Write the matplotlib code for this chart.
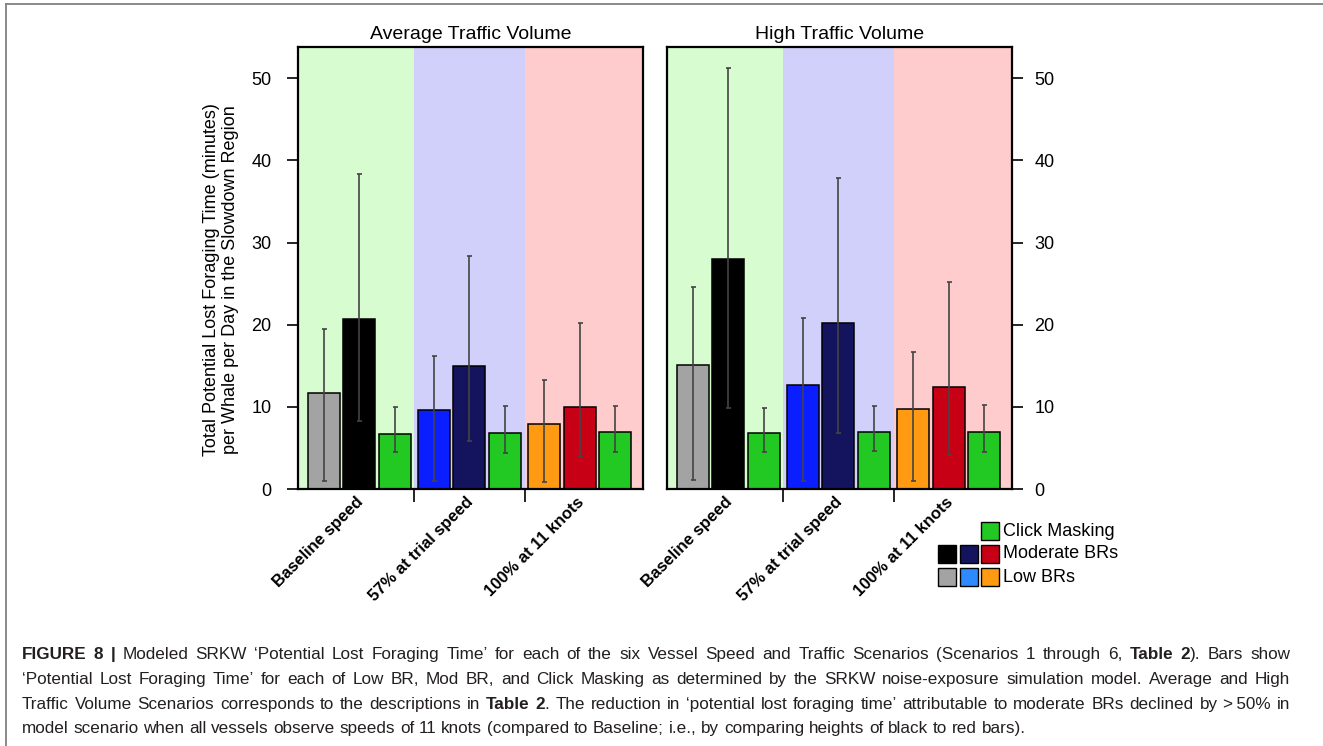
import numpy as np
import matplotlib
matplotlib.use("Agg")
import matplotlib.pyplot as plt
from matplotlib.lines import Line2D
from matplotlib.patches import Rectangle
from matplotlib.transforms import blended_transform_factory

plt.rcParams["font.family"] = ["Liberation Sans", "DejaVu Sans"]

# ---- data (minutes per whale per day) ----
scenarios = ["Baseline speed", "57% at trial speed", "100% at 11 knots"]
panel_titles = ["Average Traffic Volume", "High Traffic Volume"]

# average traffic volume
low_avg = [11.7, 9.6, 7.9]
low_avg_lo = [1.0, 1.0, 0.9]
low_avg_hi = [19.5, 16.2, 13.3]
mod_avg = [20.7, 15.0, 10.0]
mod_avg_lo = [8.3, 5.9, 3.9]
mod_avg_hi = [38.3, 28.3, 20.2]
click_avg = [6.7, 6.8, 6.9]
click_avg_lo = [4.5, 4.4, 4.5]
click_avg_hi = [10.0, 10.1, 10.1]

# high traffic volume
low_high = [15.1, 12.7, 9.7]
low_high_lo = [1.1, 1.0, 1.0]
low_high_hi = [24.6, 20.8, 16.7]
mod_high = [28.0, 20.2, 12.4]
mod_high_lo = [9.9, 6.8, 4.1]
mod_high_hi = [51.2, 37.8, 25.2]
click_high = [6.8, 6.9, 6.9]
click_high_lo = [4.5, 4.6, 4.5]
click_high_hi = [9.9, 10.1, 10.2]

y_ticks = [0, 10, 20, 30, 40, 50]

# ---- palette ----
LOW_COLORS = ["#a3a3a3", "#0a1eff", "#ff9a12"]
MOD_COLORS = ["#000000", "#14145e", "#c80016"]
CLICK = "#22c922"
LEGEND_LOW = ["#a3a3a3", "#2e8bff", "#ff9a12"]
BG = ["#d6fcd0", "#d0d0fa", "#fecccc"]
ERR = "#444444"
FRAME = "#808080"

W, H = 1323, 746
GROUP_STEP = 3.1
BAR_W = 0.9
XLIM = (-0.72, 2 * GROUP_STEP + 2 + 0.78)
YLIM = (0, 53.8)


def px_x(x):
    return x / W


def px_y(y):
    return 1 - y / H


def draw_panel(ax, series, title, side):
    groups = np.arange(len(scenarios)) * GROUP_STEP
    # scenario backgrounds
    mids = list(groups[:-1] + 2 + (GROUP_STEP - 2) / 2)
    edges = [XLIM[0]] + mids + [XLIM[1]]
    for i in range(len(scenarios)):
        ax.axvspan(edges[i], edges[i + 1], color=BG[i], lw=0, zorder=0)

    for k, (vals, lo, hi, colors) in enumerate(series):
        vals = np.asarray(vals)
        x = groups + k
        ax.bar(x, vals, width=BAR_W, color=colors, edgecolor="black",
               linewidth=1.1, zorder=2)
        ax.errorbar(x, vals, yerr=[vals - np.asarray(lo), np.asarray(hi) - vals],
                    fmt="none", ecolor=ERR, elinewidth=1.2, capsize=1.8,
                    capthick=1.2, zorder=3)

    ax.set_xlim(*XLIM)
    ax.set_ylim(*YLIM)
    ax.set_xticks(mids)
    ax.set_xticklabels([])
    ax.tick_params(axis="x", direction="out", length=9, width=1.2)
    ax.set_yticks(y_ticks)
    ax.tick_params(axis="y", direction="out", length=8, width=1.2,
                   labelsize=13)
    if side == "right":
        ax.yaxis.tick_right()
        ax.tick_params(axis="y", pad=8)
    else:
        ax.tick_params(axis="y", pad=11)
    for sp in ax.spines.values():
        sp.set_linewidth(1.6)
        sp.set_zorder(4)
    ax.set_title(title, fontsize=14, pad=6)

    trans = blended_transform_factory(ax.transData, ax.transAxes)
    for g, lab in zip(groups, scenarios):
        ax.text(g + 0.9, -0.012, lab, transform=trans, rotation=45,
                rotation_mode="anchor", ha="right", va="top",
                fontsize=12, fontweight="bold")


def caption_line(fig, x_px, base_px, parts, size, width=None):
    """Draw one caption line word by word; justify it to `width` px if given."""
    renderer = fig.canvas.get_renderer()
    space = size * fig.dpi / 72 * 0.278
    tokens = []  # [text artist, gap before?]
    pending = False
    for txt, bold in parts:
        words = txt.split(" ")
        for i, w in enumerate(words):
            if i > 0:
                pending = True
            if w == "":
                continue
            t = fig.text(0, px_y(base_px), w, fontsize=size,
                         fontweight="bold" if bold else "normal",
                         ha="left", va="baseline", color="#231f20")
            tokens.append([t, pending and bool(tokens)])
            pending = False
    widths = [t.get_window_extent(renderer).width for t, _ in tokens]
    n_gaps = sum(g for _, g in tokens)
    gap_w = space
    if width is not None and n_gaps:
        gap_w = (width - sum(widths)) / n_gaps
    x = x_px
    for (t, g), w in zip(tokens, widths):
        if g:
            x += gap_w
        t.set_x(px_x(x))
        x += w


def main():
    fig = plt.figure(figsize=(W / 100, H / 100), dpi=100)

    ax_w = 345 / W
    ax_b = px_y(489)
    ax_h = 442 / H
    ax1 = fig.add_axes([298 / W, ax_b, ax_w, ax_h])
    ax2 = fig.add_axes([667 / W, ax_b, ax_w, ax_h])

    draw_panel(ax1, [(low_avg, low_avg_lo, low_avg_hi, LOW_COLORS),
                     (mod_avg, mod_avg_lo, mod_avg_hi, MOD_COLORS),
                     (click_avg, click_avg_lo, click_avg_hi, CLICK)],
               panel_titles[0], "left")
    draw_panel(ax2, [(low_high, low_high_lo, low_high_hi, LOW_COLORS),
                     (mod_high, mod_high_lo, mod_high_hi, MOD_COLORS),
                     (click_high, click_high_lo, click_high_hi, CLICK)],
               panel_titles[1], "right")

    fig.text(px_x(221), px_y(280),
             "Total Potential Lost Foraging Time (minutes)\n"
             "per Whale per Day in the Slowdown Region",
             rotation=90, ha="center", va="center", fontsize=13,
             linespacing=1.2)

    # legend: squares right-aligned, one row per response type
    rows = [("Click Masking", [CLICK]),
            ("Moderate BRs", MOD_COLORS),
            ("Low BRs", LEGEND_LOW)]
    sq, step_x, step_y = 18, 21.5, 23
    for r, (lab, cols) in enumerate(rows):
        top = 522 + r * step_y
        for j, c in enumerate(reversed(cols)):
            left = 981 - j * step_x
            fig.add_artist(Rectangle((px_x(left), px_y(top + sq)), sq / W, sq / H,
                                     transform=fig.transFigure, facecolor=c,
                                     edgecolor="black", linewidth=1.0))
        fig.text(px_x(1003), px_y(top + sq / 2), lab, fontsize=13,
                 ha="left", va="center")

    # page frame (top and left rules)
    fig.add_artist(Line2D([px_x(6), 1], [px_y(4), px_y(4)],
                          transform=fig.transFigure, color=FRAME, lw=1.3))
    fig.add_artist(Line2D([px_x(6), px_x(6)], [0, px_y(4)],
                          transform=fig.transFigure, color=FRAME, lw=1.3))

    caption = [
        [("FIGURE 8 |", True),
         (" Modeled SRKW \u2018Potential Lost Foraging Time\u2019 for each of the six "
          "Vessel Speed and Traffic Scenarios (Scenarios 1 through 6, ", False),
         ("Table 2", True), ("). Bars show", False)],
        [("\u2018Potential Lost Foraging Time\u2019 for each of Low BR, Mod BR, and "
          "Click Masking as determined by the SRKW noise-exposure simulation "
          "model. Average and High", False)],
        [("Traffic Volume Scenarios corresponds to the descriptions in ", False),
         ("Table 2", True),
         (". The reduction in \u2018potential lost foraging time\u2019 attributable "
          "to moderate BRs declined by >\u200950% in", False)],
        [("model scenario when all vessels observe speeds of 11 knots (compared "
          "to Baseline; i.e., by comparing heights of black to red bars).", False)],
    ]
    for i, parts in enumerate(caption):
        last = i == len(caption) - 1
        caption_line(fig, 22, 659 + i * 24.8, parts, 12.3,
                     width=None if last else 1268)

    fig.savefig("out.png", dpi=100)
    plt.close(fig)


if __name__ == "__main__":
    main()
